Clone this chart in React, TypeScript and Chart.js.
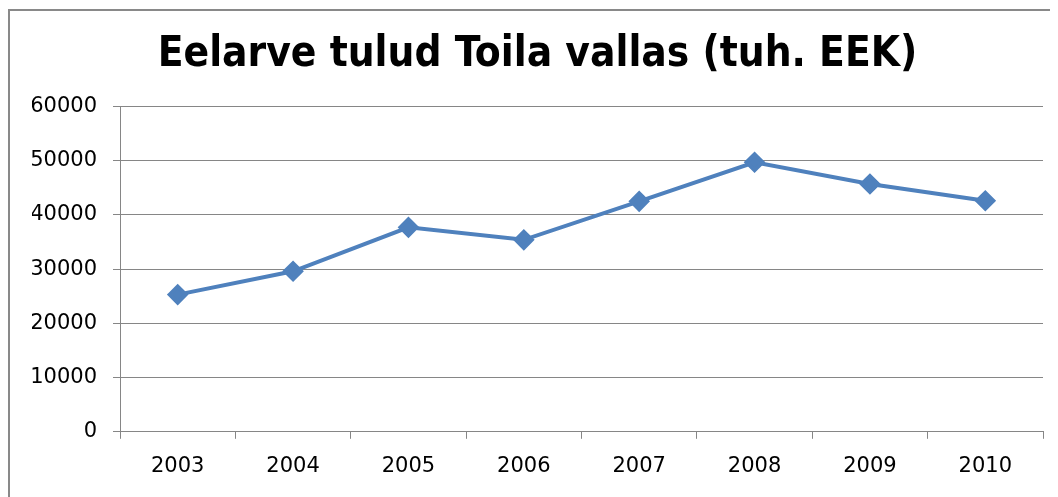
import React, { useEffect, useRef } from "react";
import { Chart, registerables } from "chart.js";

Chart.register(...registerables);

const years = ["2003", "2004", "2005", "2006", "2007", "2008", "2009", "2010"];
const revenue = [25300, 29600, 37700, 35400, 42500, 49700, 45700, 42600];
const titleText = "Eelarve tulud Toila vallas (tuh. EEK)";

const framePlugin = {
  id: "frame",
  beforeDraw(chart: any) {
    const ctx = chart.ctx;
    ctx.save();
    ctx.fillStyle = "#898989";
    ctx.fillRect(0, 1, chart.width, 2);
    ctx.fillRect(0, 1, 2, chart.height);
    ctx.restore();
  },
};

export default function App() {
  const ref = useRef<HTMLCanvasElement | null>(null);
  useEffect(() => {
    document.documentElement.style.overflow = "hidden";
    document.body.style.overflow = "hidden";
    const chart = new Chart(ref.current!, {
      type: "line",
      data: {
        labels: years,
        datasets: [
          {
            data: revenue,
            borderColor: "#4F81BD",
            backgroundColor: "#4F81BD",
            borderWidth: 4,
            pointStyle: "rectRot",
            pointRadius: 8,
            pointHoverRadius: 8,
            tension: 0,
          },
        ],
      },
      options: {
        responsive: false,
        animation: false,
        layout: { padding: { left: 24, right: 15, top: 0, bottom: 3 } },
        plugins: {
          legend: { display: false },
          tooltip: { enabled: false },
          title: {
            display: true,
            text: titleText,
            color: "#000",
            font: { family: '"DejaVu Sans Condensed", "DejaVu Sans"', size: 42, weight: "bold" },
            padding: { top: 22, bottom: 26 },
          },
        },
        scales: {
          x: {
            offset: true,
            grid: {
              display: true,
              offset: true,
              drawOnChartArea: false,
              drawTicks: true,
              tickLength: 7,
              color: "#868686",
            },
            border: { color: "#868686", width: 1 },
            ticks: {
              color: "#000",
              font: { family: "DejaVu Sans", size: 21 },
              padding: 15,
              maxRotation: 0,
            },
          },
          y: {
            min: 0,
            max: 60000,
            afterFit: (scale: any) => {
              scale.width = 88;
            },
            grid: { color: "#868686", tickLength: 7 },
            border: { color: "#868686", width: 1 },
            ticks: {
              stepSize: 10000,
              color: "#000",
              font: { family: "DejaVu Sans", size: 21 },
              padding: 16,
              callback: (v: any) => String(v),
            },
          },
        },
      },
      plugins: [framePlugin],
    });
    return () => chart.destroy();
  }, []);
  return <canvas ref={ref} width={1050} height={489} style={{ display: "block" }} />;
}
